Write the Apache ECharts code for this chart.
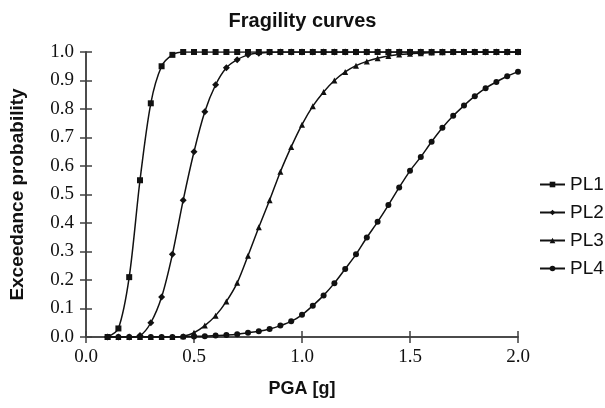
<!DOCTYPE html>
<html>
<head>
<meta charset="utf-8">
<script src="https://cdn.jsdelivr.net/npm/echarts@6/dist/echarts.min.js"></script>
<style>
  html, body { margin: 0; padding: 0; background: #fff; }
  #chart { width: 605px; height: 408px; }
</style>
</head>
<body>
<div id="chart"></div>
<script>
// PGA [g] sample points
const pga = [0.1, 0.15, 0.2, 0.25, 0.3, 0.35, 0.4, 0.45, 0.5, 0.55, 0.6, 0.65, 0.7, 0.75,
  0.8, 0.85, 0.9, 0.95, 1.0, 1.05, 1.1, 1.15, 1.2, 1.25, 1.3, 1.35, 1.4, 1.45, 1.5, 1.55,
  1.6, 1.65, 1.7, 1.75, 1.8, 1.85, 1.9, 1.95, 2.0]

const pl1 = [0, 0.03, 0.21, 0.55, 0.82, 0.95, 0.99, 1, 1, 1, 1, 1, 1, 1,
  1, 1, 1, 1, 1, 1, 1, 1, 1, 1, 1, 1, 1, 1, 1, 1,
  1, 1, 1, 1, 1, 1, 1, 1, 1]
const pl2 = [0, 0, 0, 0.005, 0.05, 0.14, 0.29, 0.48, 0.65, 0.79, 0.885, 0.945, 0.973, 0.99,
  0.996, 0.999, 1, 1, 1, 1, 1, 1, 1, 1, 1, 1, 1, 1, 1, 1,
  1, 1, 1, 1, 1, 1, 1, 1, 1]
const pl3 = [0, 0, 0, 0, 0, 0, 0, 0.003, 0.015, 0.04, 0.075, 0.125, 0.19, 0.285,
  0.385, 0.48, 0.58, 0.667, 0.745, 0.81, 0.86, 0.9, 0.93, 0.952, 0.967, 0.978, 0.986, 0.991, 0.994, 0.996,
  0.998, 0.999, 1, 1, 1, 1, 1, 1, 1]
const pl4 = [0, 0, 0, 0, 0, 0, 0, 0.001, 0.002, 0.003, 0.005, 0.007, 0.01, 0.015,
  0.02, 0.028, 0.04, 0.055, 0.078, 0.11, 0.146, 0.189, 0.239, 0.29, 0.349, 0.404, 0.463, 0.525, 0.583, 0.632,
  0.685, 0.734, 0.776, 0.812, 0.845, 0.873, 0.895, 0.915, 0.931]

const seriesNames = ['PL1', 'PL2', 'PL3', 'PL4']
const seriesSymbols = ['rect', 'diamond', 'triangle', 'circle']

const axisColor = '#404040'
const serif = '"Liberation Serif", "Times New Roman", serif'
const sans = '"Liberation Sans", Arial, sans-serif'

const chart = echarts.init(document.getElementById('chart'))

const values = [pl1, pl2, pl3, pl4]
const series = seriesNames.map((name, i) => ({
  name: name,
  type: 'line',
  data: pga.map((x, j) => [x, values[i][j]]),
  symbol: seriesSymbols[i],
  symbolSize: i === 1 ? 7 : 6,
  smooth: 0.3,
  lineStyle: { color: '#111', width: 1.5 },
  itemStyle: { color: '#111' },
  emphasis: { disabled: true }
}))

const tickFmt = v => v.toFixed(1)

// second axis only draws the inner half of the cross-shaped ticks
const innerTicks = { show: true, inside: true, length: 6, lineStyle: { color: axisColor, width: 1.5 } }

chart.setOption({
  animation: false,
  title: {
    text: 'Fragility curves',
    left: 'center',
    top: 6,
    textStyle: { fontFamily: sans, fontSize: 20, fontWeight: 'bold', color: '#111' }
  },
  legend: {
    orient: 'vertical',
    left: 534,
    top: 170,
    itemGap: 9,
    itemWidth: 25,
    itemHeight: 7,
    data: seriesNames,
    textStyle: { fontFamily: sans, fontSize: 19, color: '#111' }
  },
  grid: { left: 86, right: 87, top: 52, bottom: 71, outerBoundsMode: 'none' },
  xAxis: [{
    type: 'value',
    min: 0, max: 2, interval: 0.5,
    name: 'PGA [g]',
    nameLocation: 'middle',
    nameGap: 43,
    nameTextStyle: { fontFamily: sans, fontSize: 18, fontWeight: 'bold', color: '#111' },
    axisLine: { show: true, lineStyle: { color: axisColor, width: 1.5 } },
    axisTick: { show: true, length: 6, lineStyle: { color: axisColor, width: 1.5 } },
    axisLabel: { formatter: tickFmt, fontFamily: serif, fontSize: 19, color: '#111', margin: 11 },
    splitLine: { show: false }
  }, {
    type: 'value',
    position: 'bottom',
    min: 0, max: 2, interval: 0.5,
    axisLine: { show: true, lineStyle: { color: axisColor, width: 1.5 } },
    axisTick: innerTicks,
    axisLabel: { show: false },
    splitLine: { show: false }
  }],
  yAxis: [{
    type: 'value',
    min: 0, max: 1, interval: 0.1,
    name: 'Exceedance probability',
    nameLocation: 'middle',
    nameGap: 59,
    nameTextStyle: { fontFamily: sans, fontSize: 19, fontWeight: 'bold', color: '#111' },
    axisLine: { show: true, lineStyle: { color: axisColor, width: 1.5 } },
    axisTick: { show: true, length: 6, lineStyle: { color: axisColor, width: 1.5 } },
    axisLabel: { formatter: tickFmt, fontFamily: serif, fontSize: 19, color: '#111', margin: 12 },
    splitLine: { show: false }
  }, {
    type: 'value',
    position: 'left',
    min: 0, max: 1, interval: 0.1,
    axisLine: { show: true, lineStyle: { color: axisColor, width: 1.5 } },
    axisTick: innerTicks,
    axisLabel: { show: false },
    splitLine: { show: false }
  }],
  series: series
})
</script>
</body>
</html>
